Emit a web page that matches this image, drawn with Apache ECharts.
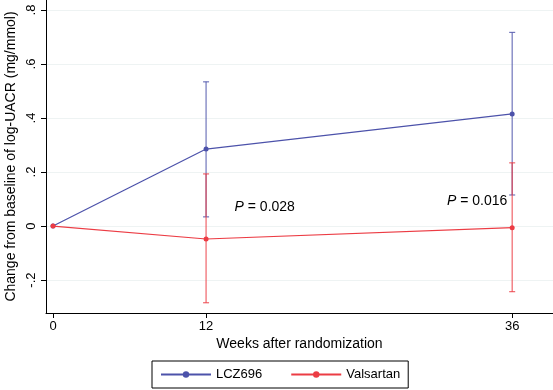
<!DOCTYPE html>
<html><head><meta charset="utf-8">
<script src="https://cdn.jsdelivr.net/npm/echarts@6/dist/echarts.min.js"></script>
<style>html,body{margin:0;padding:0;background:#fff}#c{width:553px;height:390px}</style>
</head><body><div id="c"></div>
<script>
const weeks = [0, 12, 36];
const lczMean = [0, 0.285, 0.415];
const lczLow = [0, 0.034, 0.115];
const lczHigh = [0, 0.534, 0.717];
const valMean = [0, -0.048, -0.006];
const valLow = [0, -0.284, -0.243];
const valHigh = [0, 0.193, 0.234];
const yTicks = [-0.2, 0, 0.2, 0.4, 0.6, 0.8];
const xTicks = [0, 12, 36];
const pValues = ['0.028', '0.016'];
const pWeek = [16.6, 33.25];
const pVal = [0.070, 0.093];

const BLUE = '#4c52aa', RED = '#ec3c44';
const font = 'Liberation Sans, Arial, sans-serif';

function fmt(v){
  if (v === 0) return '0';
  let s = String(+v.toFixed(1));
  return s.replace('0.', '.');
}
function errSeries(name, low, high, color, z){
  return {
    type: 'custom', name: name + '_err', z: z, silent: true,
    data: weeks.map((w,i)=>[w, low[i], high[i]]).filter(d=>d[1]!==d[2]),
    renderItem: function(params, api){
      const x = api.value(0);
      const p1 = api.coord([x, api.value(1)]);
      const p2 = api.coord([x, api.value(2)]);
      const cw = 3;
      const st = {stroke: color, lineWidth: 1.2, opacity: 0.8};
      return {type:'group', children:[
        {type:'line', shape:{x1:p1[0],y1:p1[1],x2:p2[0],y2:p2[1]}, style:st},
        {type:'line', shape:{x1:p1[0]-cw,y1:p1[1],x2:p1[0]+cw,y2:p1[1]}, style:st},
        {type:'line', shape:{x1:p2[0]-cw,y1:p2[1],x2:p2[0]+cw,y2:p2[1]}, style:st}
      ]};
    }
  };
}
const chart = echarts.init(document.getElementById('c'));
chart.setOption({
  backgroundColor: '#fff',
  animation: false,
  textStyle: {fontFamily: font},
  grid: {left: 46, top: 0, right: 0, bottom: 77, outerBoundsMode: 'none', containLabel: false},
  xAxis: {
    type: 'value', min: -0.55, max: 39.2,
    name: 'Weeks after randomization', nameLocation: 'middle', nameGap: 24, nameMoveOverlap: false,
    nameTextStyle: {fontSize: 14, color: '#000', fontFamily: font},
    axisLine: {show: true, onZero: false, lineStyle: {color: '#000', width: 1}},
    axisTick: {show: true, length: 5, lineStyle: {color: '#000'}, customValues: xTicks},
    axisLabel: {fontSize: 13, color: '#000', margin: 7, customValues: xTicks},
    splitLine: {show: false}
  },
  yAxis: {
    type: 'value', min: -0.322, max: 0.837,
    name: 'Change from baseline of log-UACR (mg/mmol)', nameLocation: 'middle', nameGap: 28, nameMoveOverlap: false,
    nameTextStyle: {fontSize: 14, color: '#000', fontFamily: font},
    axisLine: {show: true, onZero: false, lineStyle: {color: '#000', width: 1}},
    axisTick: {show: true, length: 5, lineStyle: {color: '#000'}, customValues: yTicks},
    axisLabel: {fontSize: 13, color: '#000', rotate: 90, margin: 15, align: 'center', verticalAlign: 'middle', customValues: yTicks, formatter: fmt},
    splitLine: {show: true, lineStyle: {color: '#eef3f3', width: 1}}
  },
  legend: {
    left: 152, top: 361, padding: [7, 8, 7, 8], itemGap: 28,
    borderColor: '#000', borderWidth: 1,
    itemWidth: 50, itemHeight: 8,
    textStyle: {fontSize: 13, color: '#000', fontFamily: font},
    data: ['LCZ696', 'Valsartan']
  },
  series: [
    errSeries('LCZ696', lczLow, lczHigh, BLUE, 2),
    errSeries('Valsartan', valLow, valHigh, RED, 3),
    {
      name: 'LCZ696', type: 'line', z: 4,
      data: weeks.map((w,i)=>[w, lczMean[i]]),
      symbol: 'circle', symbolSize: 5,
      lineStyle: {color: BLUE, width: 1.2}, itemStyle: {color: BLUE}
    },
    {
      name: 'Valsartan', type: 'line', z: 5,
      data: weeks.map((w,i)=>[w, valMean[i]]),
      symbol: 'circle', symbolSize: 5,
      lineStyle: {color: RED, width: 1.2}, itemStyle: {color: RED},
      markPoint: {
        symbol: 'circle', symbolSize: 0, silent: true,
        data: pValues.map((p,i)=>({coord:[pWeek[i], pVal[i]], value: p})),
        label: {
          show: true, position: 'inside',
          formatter: p => '{i|P} = ' + p.value,
          color: '#000', fontSize: 14, fontFamily: font,
          rich: {i: {fontStyle: 'italic', fontSize: 14, color: '#000', fontFamily: font}}
        }
      }
    }
  ]
});
</script></body></html>
